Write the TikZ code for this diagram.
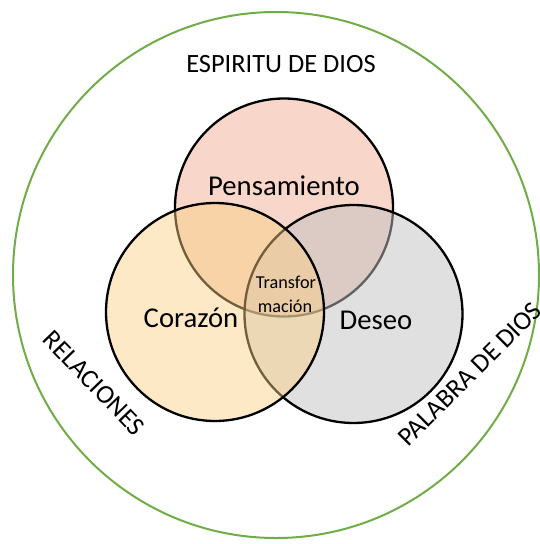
\documentclass[tikz,border=0pt]{standalone}
\usepackage{fontspec}
\setmainfont{Carlito}
\definecolor{ogreen}{RGB}{112,173,71}
\definecolor{pensc}{RGB}{248,215,202}
\definecolor{deseoc}{RGB}{193,193,193}
\definecolor{corc}{RGB}{251,207,130}
\begin{document}
\begin{tikzpicture}[x=1pt,y=-1pt,
  ring/.style={circle,draw=black,line width=2.3pt,minimum size=218pt,inner sep=0pt,outer sep=0pt},
  lbl/.style={font=\fontsize{28.7}{34}\selectfont,inner sep=0pt},
  outerlbl/.style={font=\fontsize{26.4}{32}\selectfont,inner sep=0pt},
  smalllbl/.style={font=\fontsize{18.2}{23}\selectfont,inner sep=0pt}]
\useasboundingbox (0,0) rectangle (540,544);
\node[circle,draw=ogreen,line width=2pt,minimum size=526pt,inner sep=0pt] (outer) at (276,275) {};
\node[ring,fill=pensc] (pens) at (284,207.5) {};
\node[ring,fill=deseoc,fill opacity=0.5] (deseo) at (353.5,314) {};
\node[ring,fill=corc,fill opacity=0.46] (cor) at (215,312) {};
\node[outerlbl,anchor=base] (esp) at (281,72.5) {ESPIRITU DE DIOS};
\node[lbl,anchor=base] (tpens) at (284,195.6) {Pensamiento};
\node[lbl,anchor=base] (tcor) at (191,327) {Corazón};
\node[lbl,anchor=base] (tdes) at (376,329) {Deseo};
\node[smalllbl,anchor=base] (t1) at (286,288.3) {Transfor};
\node[smalllbl,anchor=base] (t2) at (285,312.7) {mación};
\node[outerlbl,rotate=-46] (rel) at (94,383) {RELACIONES};
\node[outerlbl,rotate=45] (pal) at (470,374) {PALABRA DE DIOS};
\end{tikzpicture}
\end{document}
